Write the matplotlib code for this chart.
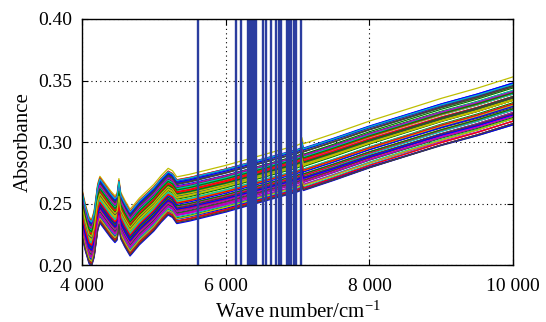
import matplotlib
matplotlib.use("Agg")
import matplotlib.pyplot as plt
from matplotlib.ticker import FuncFormatter
import numpy as np

# mean spectrum (wave number, absorbance)
wave = [4000, 4050, 4100, 4135, 4170, 4220, 4250, 4300, 4400, 4460, 4490,
        4515, 4540, 4600, 4670, 4700, 4800, 5000, 5100, 5200, 5260, 5320,
        5500, 6000, 6500, 7000, 7040, 7060, 7080, 7500, 8000, 8500, 9000,
        9500, 10000]
mean_abs = [0.244, 0.231, 0.221, 0.219, 0.226, 0.248, 0.254, 0.250, 0.242,
            0.238, 0.240, 0.252, 0.241, 0.234, 0.227, 0.229, 0.236, 0.247,
            0.254, 0.260, 0.258, 0.253, 0.255, 0.262, 0.270, 0.278, 0.279,
            0.284, 0.279, 0.287, 0.297, 0.306, 0.315, 0.323, 0.332]

# per-sample offsets and tilts (x1e-3), estimated from the band spread
offsets = [-3, 8, -12, 5, -7, 18, 1, 12, -15, -2,
           9, -18, 4, -9, 14, 0, -5, 11, -13, 6,
           -1, 16, -10, 3, -16, 7, -4, 13, -8, 10,
           -19, 2, -6, 15, -11, 5, -3, 17, -14, 8,
           -1, 12, -20, 4, -7, 9, -12, 1, -17, 14,
           -5, 6, -9, 11, -2, 3, -15, 10, -8, 7,
           -13, 0, 13, -4, 5, -18, 9, -10, 2, -6,
           15, -11, 6, -1, 11, -16, 3, -7, 8, -3,
           16, -12, 4, -19]
tilts = [2, -1, 3, 0, -2, 3, 1, -3, 2, -1,
         0, 3, -2, 1, -1, 2, 0, -2, 3, 1,
         -3, 0, 2, -1, 1, -2, 3, 0, -1, 2,
         2, 1, 0, -2, 2, -1, 3, -3, 1, 0,
         -2, 2, 3, -1, 1, 0, -3, 2, -1, 1,
         0, -1, 3, -2, 1, 2, -3, 0, -1, 3,
         2, -2, 0, 1, -1, 3, -2, 2, 0, -3,
         1, -1, 2, 0, -2, 3, 1, -3, 0, 2,
         -1, 1, -2, 2]

# selected variables (vertical lines)
selected = [5611, 6137, 6216, 6304, 6332, 6360, 6387, 6415, 6513, 6554,
            6631, 6694, 6742, 6770, 6847, 6875, 6902, 6951, 6979, 7049]

colors = [(0, 0, 1), (0, 0.5, 0), (1, 0, 0), (0, 0.75, 0.75),
          (0.75, 0, 0.75), (0.75, 0.75, 0), (0.25, 0.25, 0.25)]

plt.rcParams['font.family'] = ['Liberation Serif', 'DejaVu Serif']
plt.rcParams['mathtext.fontset'] = 'custom'
plt.rcParams['mathtext.rm'] = 'Liberation Serif'
plt.rcParams['mathtext.it'] = 'Liberation Serif:italic'

fig = plt.figure(figsize=(5.46, 3.22), dpi=100)
ax = fig.add_axes([0.150, 0.177, 0.790, 0.764])

w = np.array(wave, dtype=float)
base = np.array(mean_abs)
for i, (off, t) in enumerate(zip(offsets, tilts)):
    y = base + off / 1000 + t / 1000 * (w - 4000) / 6000
    ax.plot(w, y, color=colors[i % 7], lw=0.9)

for s in selected:
    ax.axvline(s, color='#2b3d9f', lw=1.7)

ax.set_xlim(4000, 10000)
ax.set_ylim(0.20, 0.40)
ax.set_xticks([4000, 6000, 8000, 10000])
ax.set_yticks([0.20, 0.25, 0.30, 0.35, 0.40])
ax.xaxis.set_major_formatter(FuncFormatter(lambda v, p: f"{int(v):,}".replace(",", " ")))
ax.yaxis.set_major_formatter(FuncFormatter(lambda v, p: f"{v:.2f}"))
ax.tick_params(direction='in', top=True, right=True, labelsize=14, length=4)
ax.tick_params(axis='x', pad=9)
ax.tick_params(axis='y', pad=7)
ax.grid(True, color='black', linestyle=(0, (1, 3)), lw=0.8)
for sp in ax.spines.values():
    sp.set_linewidth(1.0)

ax.set_xlabel("Wave number/cm$^{\\mathrm{-1}}$", fontsize=15, labelpad=5)
ax.set_ylabel("Absorbance", fontsize=15, labelpad=4)

fig.savefig("out.png", dpi=100)
